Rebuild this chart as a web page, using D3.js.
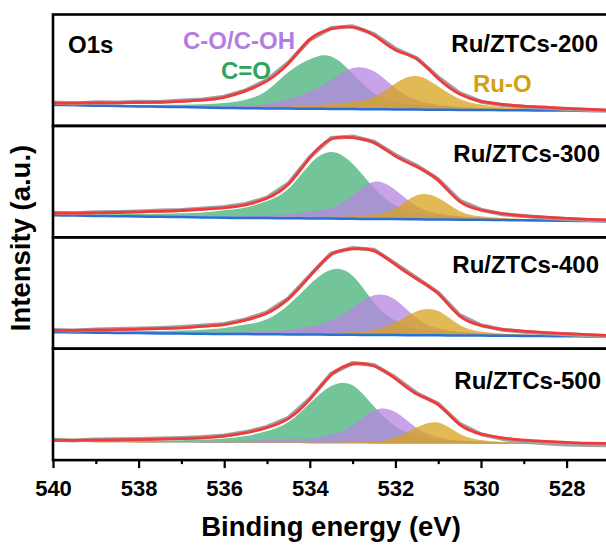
<!DOCTYPE html>
<html><head><meta charset="utf-8">
<script src="https://cdn.jsdelivr.net/npm/d3@7"></script>
<style>
body{margin:0;background:#fff}
svg{display:block}
text{font-family:"Liberation Sans",Arial,Helvetica,sans-serif;font-weight:bold}
</style>
</head><body>
<svg id="chart" width="606" height="545"></svg>
<script>
// ---------- DATA ----------
// binding energy grid (eV), shared by every series
const energies = [540,539.5,539,538.5,538,537.5,537,536.5,536,535.5,535,534.5,534,533.5,533,532.5,532,531.5,531,530.5,530,529.5,529,528.5,528,527.5,527];

const samples = ['Ru/ZTCs-200','Ru/ZTCs-300','Ru/ZTCs-400','Ru/ZTCs-500'];
const componentNames = ['C=O','C-O/C-OH','Ru-O'];
const xTickValues = [540,538,536,534,532,530,528];
const xMinorTickValues = [539,537,535,533,531,529,527];

// background (intensity, a.u.)
const baseline = [
  [21,20.6,20.2,19.9,19.5,19.2,18.8,18.4,18,17.7,17.5,17.3,17.2,17,16.8,16.6,16.5,16.3,16.2,16,15.9,15.7,15.6,15.4,15.3,15,14.8],
  [22,21.7,21.4,21.1,20.8,20.5,20.2,19.8,19.5,19.3,19.2,19,18.9,18.7,18.5,18.3,18.2,18,17.8,17.6,17.5,17.2,17,16.7,16.5,16.2,16],
  [16.5,16.2,16,15.8,15.6,15.3,15.1,14.9,14.7,14.6,14.5,14.3,14.2,14,13.9,13.7,13.6,13.5,13.4,13.2,13.1,12.9,12.8,12.6,12.5,12.3,12.2],
  [18.2,18.1,17.9,17.8,17.7,17.6,17.5,17.3,17.2,17.1,17,17,16.9,16.9,16.8,16.7,16.6,16.6,16.5,16.5,16.4,16.3,16.3,16.2,16.1,16.1,16]
];
// fitted envelope (intensity, a.u.)
const envelope = [
  [22.8,22.9,23,23.1,23.4,23.7,24.5,25.7,28.5,35,45,62.5,86.5,97,98.7,90.5,76,67,47.5,32,24.5,21.5,19.7,18.7,17.5,16.7,15.7],
  [24,24.2,24.4,24.8,25.4,26,26.8,28,29.5,32.5,39,53,79.5,98.3,99.6,94.6,81.2,70.6,56.9,35.9,27.3,23.7,21.5,20.2,19,18,17.2],
  [18.2,18.4,18.7,19,19.5,20.1,20.8,22.3,24,28.5,35.5,49.8,72.5,94.2,99.8,97.8,84,69.7,55.1,32.8,23.2,19.3,17.5,16.1,15.1,14,13.1],
  [19.7,19.8,20,20.2,20.5,20.9,21.4,22.3,24,27.2,32.5,41.5,60.7,85.3,96.1,94.1,81.5,66,55.5,35.8,26.1,22.2,20,18.8,17.8,17,16.6]
];
// raw spectrum (intensity, a.u.)
const raw = [
  [23.3,22.5,23.6,23.4,24.2,23.9,25.3,26.4,29.2,35.6,45.8,63.3,86.2,97.8,99.6,91.8,77.2,67.6,48.6,32.9,24.2,21,19.1,18.2,17,16,15.2],
  [24.6,24,25.1,25.4,25.9,26.8,27.4,28.8,30.3,33.3,39.6,53.8,80.2,99.4,100.8,95.6,82.3,71.5,58,36.8,27.6,23.1,21.2,19.6,18.4,17.2,16.8],
  [18.8,18.3,19.3,19.6,20.2,20.8,21.6,23.1,24.8,29.3,36.4,50.3,73.2,95.3,100.8,99,85,70.6,56,33.6,23.4,19,17,15.5,14.4,13.5,12.6],
  [20.3,19.5,20.6,20.8,21.1,21.5,22.2,23,24.6,28,33.2,42.3,61.4,86.2,97.2,95,82.5,66.8,56.3,36.2,25.8,21.2,18.4,16.8,15.6,15,14.8]
];
// components, height above background
const compCO = [   // C=O
  [0.5,0.6,0.8,1,1.3,1.7,2.3,3.2,5,8.5,18,36.5,49.5,52.5,35.5,16,7.5,4.8,3.3,2.3,1.6,1.2,0.9,0.7,0.5,0.4,0.3],
  [1,1.2,1.5,1.9,2.4,3,3.8,5,7.5,10.5,17,29.5,54,66.5,55,31,13.5,6.5,4.2,2.8,2,1.5,1.1,0.8,0.6,0.5,0.4],
  [0.8,1,1.2,1.5,1.9,2.4,3,4,6,9.5,15,29.5,50,65,59,32.5,14.5,6.8,4.3,2.9,2,1.5,1.1,0.8,0.6,0.5,0.4],
  [0.7,0.8,1,1.2,1.5,1.9,2.4,3.2,4.5,7,12,21,40,57.2,58,36.8,17,7.3,4.2,2.8,2,1.5,1.1,0.8,0.6,0.5,0.4]
];
const compCOH = [  // C-O/C-OH
  [0.3,0.35,0.4,0.5,0.6,0.7,0.8,1,1.5,2.5,4.5,9.5,17,29,41,38,21.5,9.5,5,3,2,1.4,1,0.8,0.6,0.5,0.4],
  [0.3,0.35,0.4,0.5,0.55,0.6,0.7,0.9,1.2,1.8,2.5,4,7,10.5,23,37.2,29,13,6,3.5,2.2,1.5,1.1,0.8,0.6,0.5,0.4],
  [0.3,0.35,0.4,0.5,0.55,0.6,0.7,0.9,1.2,1.8,2.6,4.5,8,14.5,27,39.8,35.3,17,7,3.8,2.4,1.6,1.2,0.9,0.7,0.5,0.4],
  [1,1,1,1.05,1.1,1.15,1.2,1.4,1.7,2.2,3,3.8,4.5,8.5,18,33,31.5,15.5,6.4,3,2,1.5,1.2,1,0.8,0.7,0.6]
];
const compRuO = [  // Ru-O
  [0.2,0.25,0.3,0.35,0.4,0.5,0.6,0.8,1,1.2,1.6,2.2,3.2,4.6,7,12,26,33.5,23.2,11,5.5,3.2,2.2,1.5,1.1,0.8,0.6],
  [0.2,0.25,0.3,0.35,0.4,0.45,0.5,0.6,0.65,0.7,0.8,1,1.3,1.8,2.6,4.5,10.5,24,21.5,8.8,3.5,2,1.4,1,0.8,0.6,0.5],
  [0.2,0.25,0.3,0.35,0.4,0.45,0.5,0.6,0.65,0.7,0.8,1,1.3,1.8,2.6,5,12.5,24,24.2,10.5,4,2.2,1.5,1.1,0.8,0.6,0.5],
  [0.2,0.22,0.25,0.28,0.3,0.33,0.36,0.4,0.45,0.5,0.55,0.6,0.7,0.8,1.1,2,6,16.2,21,9.8,3.6,1.8,1.2,0.9,0.7,0.5,0.4]
];
const showBaseline = [true,true,true,false];

// ---------- LAYOUT ----------
const plotLeft = 53, plotRight = 609.4;
const plotTop = 14.5, panelH = 111.4, nPanels = 4;
const plotBottom = plotTop + panelH * nPanels;
const yMax = 111.4;
const labelBaselineDy = [37.5, 36.5, 35.5, 40.5];
const labelRight = [598, 600, 599, 601];

const compColors = ['#44b277', '#b784e2', '#d8a31c'];
const compData = [compCO, compCOH, compRuO];

const svg = d3.select('#chart');
const x = d3.scaleLinear().domain([540, 527]).range([plotLeft, plotRight]);

const curve = d3.curveNatural;

for (let p = 0; p < nPanels; p++) {
  const top = plotTop + p * panelH;
  const bottom = top + panelH;
  const y = d3.scaleLinear().domain([0, yMax]).range([bottom, top]);
  const g = svg.append('g');
  const base = baseline[p];

  compData.forEach((cd, ci) => {
    const vals = cd[p];
    const area = d3.area()
      .x((d, i) => x(energies[i]))
      .y0((d, i) => y(base[i]))
      .y1((d, i) => y(base[i] + vals[i]))
      .curve(curve);
    g.append('path').attr('d', area(vals))
      .attr('fill', compColors[ci]).attr('fill-opacity', 0.75).attr('stroke', 'none');
  });

  const line = d3.line().x((d, i) => x(energies[i])).y(d => y(d));

  if (showBaseline[p]) {
    g.append('path').attr('d', line.curve(d3.curveMonotoneX)(base))
      .attr('fill', 'none').attr('stroke', '#2a6fd8').attr('stroke-width', 2.5);
  }
  g.append('path').attr('d', line.curve(d3.curveLinear)(raw[p]))
    .attr('fill', 'none').attr('stroke', '#a0a0a0').attr('stroke-width', 4)
    .attr('stroke-linejoin', 'round');
  g.append('path').attr('d', line.curve(curve)(envelope[p]))
    .attr('fill', 'none').attr('stroke', '#f03a3c').attr('stroke-width', 2.8);

  g.append('text').attr('x', labelRight[p]).attr('y', top + labelBaselineDy[p])
    .attr('text-anchor', 'end').attr('font-size', 24).attr('fill', '#000')
    .text(samples[p]);
}

// panel annotations (first panel)
svg.append('text').attr('x', 68).attr('y', 53).attr('font-size', 24).attr('fill', '#000').text('O1s');
svg.append('text').attr('x', 295).attr('y', 49).attr('text-anchor', 'end').attr('font-size', 24).attr('fill', '#b47de1').text(componentNames[1]);
svg.append('text').attr('x', 271).attr('y', 79).attr('text-anchor', 'end').attr('font-size', 24).attr('fill', '#2da55d').text(componentNames[0]);
svg.append('text').attr('x', 473).attr('y', 92).attr('font-size', 24).attr('fill', '#d6a014').text(componentNames[2]);

// frames
for (let p = 0; p < nPanels; p++) {
  svg.append('rect').attr('x', plotLeft).attr('y', plotTop + p * panelH)
    .attr('width', plotRight - plotLeft).attr('height', panelH)
    .attr('fill', 'none').attr('stroke', '#000').attr('stroke-width', 2.6);
}

// x axis
const axisG = svg.append('g').attr('transform', `translate(0,${plotBottom})`)
  .call(d3.axisBottom(x).tickValues(xTickValues).tickFormat(d3.format('d')).tickSize(8).tickPadding(12));
axisG.select('.domain').remove();
axisG.selectAll('line').attr('stroke', '#000').attr('stroke-width', 2.2);
axisG.selectAll('text').attr('font-size', 22).attr('fill', '#000')
  .style('font-family', '"Liberation Sans",Arial,sans-serif').style('font-weight', 'bold');

const minorG = svg.append('g').attr('transform', `translate(0,${plotBottom})`)
  .call(d3.axisBottom(x).tickValues(xMinorTickValues).tickSize(4).tickFormat(''));
minorG.select('.domain').remove();
minorG.selectAll('line').attr('stroke', '#000').attr('stroke-width', 2.2);

// axis titles
svg.append('text').attr('x', 331).attr('y', 536).attr('text-anchor', 'middle')
  .attr('font-size', 27.5).attr('fill', '#000').text('Binding energy (eV)');
svg.append('text').attr('transform', 'translate(30,238) rotate(-90)').attr('text-anchor', 'middle')
  .attr('font-size', 27.5).attr('fill', '#000').text('Intensity (a.u.)');
</script>
</body></html>
